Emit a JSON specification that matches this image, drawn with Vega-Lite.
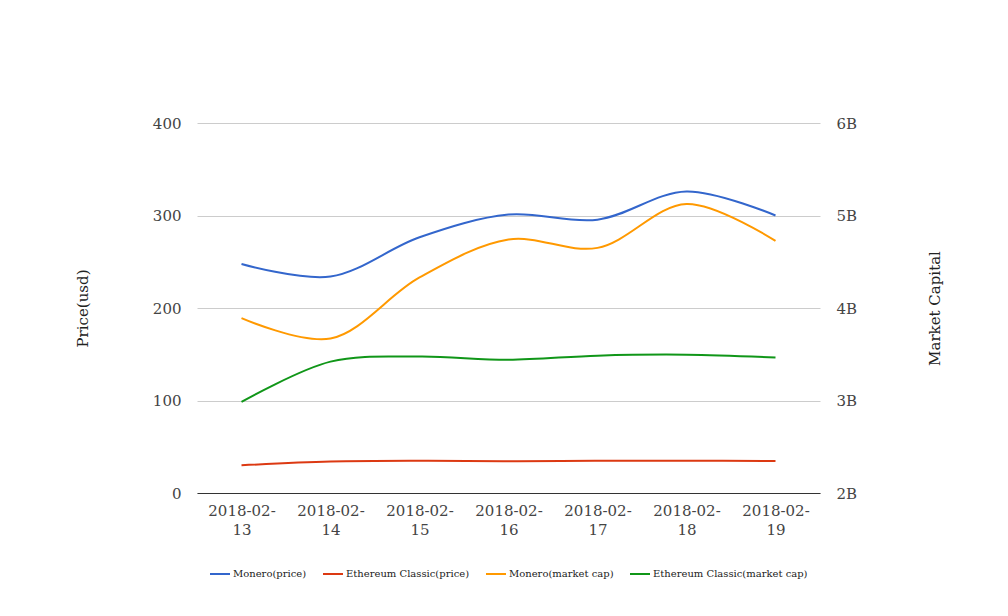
{
  "$schema": "https://vega.github.io/schema/vega-lite/v6.json",
  "width": 623,
  "height": 370,
  "autosize": {"type": "none"},
  "padding": {"left": 197, "top": 123, "right": 188, "bottom": 123},
  "background": "white",
  "config": {
    "font": "DejaVu Serif",
    "view": {"stroke": null},
    "axis": {"labelFont": "DejaVu Serif", "titleFont": "DejaVu Serif", "labelFontSize": 15, "titleFontSize": 15, "labelColor": "#444444", "titleColor": "#222222", "titleFontWeight": "normal"}
  },
  "data": {
    "values": [
      {"date": "2018-02-13", "series": "Monero(price)", "kind": "price", "value": 247.6},
      {"date": "2018-02-14", "series": "Monero(price)", "kind": "price", "value": 234},
      {"date": "2018-02-15", "series": "Monero(price)", "kind": "price", "value": 276.5},
      {"date": "2018-02-16", "series": "Monero(price)", "kind": "price", "value": 301},
      {"date": "2018-02-17", "series": "Monero(price)", "kind": "price", "value": 295.5},
      {"date": "2018-02-18", "series": "Monero(price)", "kind": "price", "value": 326},
      {"date": "2018-02-19", "series": "Monero(price)", "kind": "price", "value": 300},
      {"date": "2018-02-13", "series": "Ethereum Classic(price)", "kind": "price", "value": 30},
      {"date": "2018-02-14", "series": "Ethereum Classic(price)", "kind": "price", "value": 34},
      {"date": "2018-02-15", "series": "Ethereum Classic(price)", "kind": "price", "value": 34.8},
      {"date": "2018-02-16", "series": "Ethereum Classic(price)", "kind": "price", "value": 34.3},
      {"date": "2018-02-17", "series": "Ethereum Classic(price)", "kind": "price", "value": 34.8},
      {"date": "2018-02-18", "series": "Ethereum Classic(price)", "kind": "price", "value": 34.8},
      {"date": "2018-02-19", "series": "Ethereum Classic(price)", "kind": "price", "value": 34.6},
      {"date": "2018-02-13", "series": "Monero(market cap)", "kind": "cap", "value": 3890000000},
      {"date": "2018-02-14", "series": "Monero(market cap)", "kind": "cap", "value": 3670000000},
      {"date": "2018-02-15", "series": "Monero(market cap)", "kind": "cap", "value": 4330000000},
      {"date": "2018-02-16", "series": "Monero(market cap)", "kind": "cap", "value": 4740000000},
      {"date": "2018-02-17", "series": "Monero(market cap)", "kind": "cap", "value": 4650000000},
      {"date": "2018-02-18", "series": "Monero(market cap)", "kind": "cap", "value": 5125000000},
      {"date": "2018-02-19", "series": "Monero(market cap)", "kind": "cap", "value": 4725000000},
      {"date": "2018-02-13", "series": "Ethereum Classic(market cap)", "kind": "cap", "value": 2985000000},
      {"date": "2018-02-14", "series": "Ethereum Classic(market cap)", "kind": "cap", "value": 3420000000},
      {"date": "2018-02-15", "series": "Ethereum Classic(market cap)", "kind": "cap", "value": 3475000000},
      {"date": "2018-02-16", "series": "Ethereum Classic(market cap)", "kind": "cap", "value": 3440000000},
      {"date": "2018-02-17", "series": "Ethereum Classic(market cap)", "kind": "cap", "value": 3485000000},
      {"date": "2018-02-18", "series": "Ethereum Classic(market cap)", "kind": "cap", "value": 3495000000},
      {"date": "2018-02-19", "series": "Ethereum Classic(market cap)", "kind": "cap", "value": 3465000000}
    ]
  },
  "encoding": {
    "x": {
      "field": "date", "type": "ordinal",
      "scale": {"type": "point", "padding": 0.5},
      "axis": {
        "title": null, "labelAngle": 0, "ticks": false,
        "domainColor": "#333333", "domainWidth": 1,
        "labelPadding": 10, "labelLineHeight": 19, "labelBaseline": "top",
        "labelExpr": "[slice(datum.label, 0, 8), slice(datum.label, 8)]"
      }
    },
    "color": {
      "field": "series", "type": "nominal",
      "scale": {
        "domain": ["Monero(price)", "Ethereum Classic(price)", "Monero(market cap)", "Ethereum Classic(market cap)"],
        "range": ["#3366cc", "#dc3912", "#ff9900", "#109618"]
      },
      "legend": {
        "title": null, "orient": "none", "direction": "horizontal",
        "legendX": 12, "legendY": 440,
        "symbolType": "stroke", "symbolSize": 400, "symbolStrokeWidth": 2,
        "labelFont": "DejaVu Serif", "labelFontSize": 10, "labelColor": "#222222",
        "labelOffset": 2, "columnPadding": 12
      }
    }
  },
  "layer": [
    {
      "transform": [{"filter": "datum.kind === 'price'"}],
      "mark": {"type": "line", "interpolate": "catmull-rom", "strokeWidth": 2},
      "encoding": {
        "y": {
          "field": "value", "type": "quantitative",
          "scale": {"domain": [0, 400]},
          "axis": {
            "title": "Price(usd)", "values": [0, 100, 200, 300, 400],
            "domain": false, "ticks": false, "labelPadding": 16,
            "gridColor": "#cccccc",
            "titleAngle": -90, "titleX": -115, "titleY": 185,
            "titleAlign": "center", "titleBaseline": "middle"
          }
        }
      }
    },
    {
      "transform": [{"filter": "datum.kind === 'cap'"}],
      "mark": {"type": "line", "interpolate": "catmull-rom", "strokeWidth": 2},
      "encoding": {
        "y": {
          "field": "value", "type": "quantitative",
          "scale": {"domain": [2000000000, 6000000000]},
          "axis": {
            "title": "Market Capital", "orient": "right",
            "values": [2000000000, 3000000000, 4000000000, 5000000000, 6000000000],
            "labelExpr": "(datum.value / 1e9) + 'B'",
            "domain": false, "ticks": false, "grid": false, "labelPadding": 16,
            "titleAngle": -90, "titleX": 114, "titleY": 185,
            "titleAlign": "center", "titleBaseline": "middle"
          }
        }
      }
    }
  ],
  "resolve": {"scale": {"y": "independent"}}
}
